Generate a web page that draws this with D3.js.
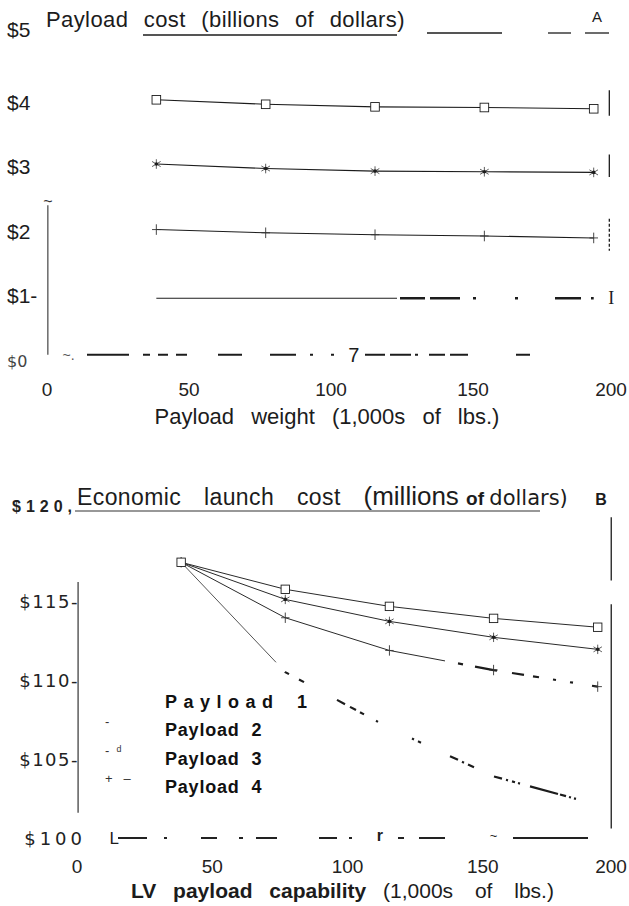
<!DOCTYPE html>
<html>
<head>
<meta charset="utf-8">
<script src="https://cdn.jsdelivr.net/npm/d3@7"></script>
<style>
  body { margin: 0; background: #fff; }
  svg { display: block; }
</style>
</head>
<body>
<div id="chart"></div>
<script>
// payload weight / LV payload capability (1,000s of lbs.)
const weights = [38.5, 77, 115.5, 154, 192.5];

// A: payload cost, billions of dollars
const costP1 = [0.96, 0.96, 0.96, 0.96, 0.96];
const costP2 = [2.03, 1.98, 1.95, 1.93, 1.90];
const costP3 = [3.05, 2.98, 2.94, 2.93, 2.92];
const costP4 = [4.05, 3.98, 3.94, 3.93, 3.91];

// B: economic launch cost, millions of dollars
const launchP1 = [117.45, 110.5, 106.96, 103.9, 102.1];
const launchP2 = [117.45, 113.94, 111.87, 110.63, 109.58];
const launchP3 = [117.45, 115.1, 113.71, 112.7, 111.94];
const launchP4 = [117.45, 115.74, 114.66, 113.9, 113.34];

const xTicks = [0, 50, 100, 150, 200];
const yTicksA = [0, 1, 2, 3, 4, 5];
const yLabelsA = ['$0', '$1-', '$2', '$3', '$4', '$5'];
const yTicksB = [100, 105, 110, 115, 120];
const yLabelsB = ['$100', '$105-', '$110-', '$115-', '$120,'];
const legendLabels = ['Payload 1', 'Payload 2', 'Payload 3', 'Payload 4'];
const legendMarks = ['', '-', '-  \u1D48', '+   \u2013'];
const markerKinds = [null, 'plus', 'star', 'square'];

const W = 629, H = 906;
const ink = '#1c1c1c';
const sans = '"Liberation Sans", Arial, sans-serif';
const narrow = '"Liberation Sans Narrow", "Liberation Sans", Arial, sans-serif';
const wide = '"DejaVu Sans", Verdana, sans-serif';

const svg = d3.select('#chart').append('svg')
    .attr('width', W)
    .attr('height', H)
    .style('background', '#fff');

const xA = d3.scaleLinear().domain([0, 200]).range([47, 615]);
const yA = d3.scaleLinear().domain([0, 5]).range([360, 38.75]);
const xB = d3.scaleLinear().domain([0, 200]).range([77, 618]);
const yB = d3.scaleLinear().domain([100, 120]).range([838, 522]);

// length along a polyline up to pixel x
function lengthAtX(pts, px) {
    let len = 0;
    for (let i = 1; i < pts.length; i++) {
        const [x0, y0] = pts[i - 1], [x1, y1] = pts[i];
        const seg = Math.hypot(x1 - x0, y1 - y0);
        if (px <= x1) return len + seg * Math.max(0, px - x0) / (x1 - x0);
        len += seg;
    }
    return len;
}

// the scan broke some lines up; rebuild those gaps as a dash pattern
function dashes(pts, spans) {
    const arr = [0];
    let pos = 0;
    spans.forEach(function(s) {
        const a = lengthAtX(pts, s[0]), b = lengthAtX(pts, s[1]);
        arr.push(Math.max(0, a - pos), Math.max(0.8, b - a));
        pos = b;
    });
    arr.push(3000);
    return arr.join(',');
}

// thin solid run first, then the heavier scanned fragments
function brokenLine(g, pts, spans, thin, thick, color) {
    const first = [[pts[0][0], spans[0][1]]];
    g.append('path').attr('d', line(pts))
        .attr('fill', 'none').attr('stroke', color).attr('stroke-width', thin)
        .attr('stroke-dasharray', dashes(pts, first));
    g.append('path').attr('d', line(pts))
        .attr('fill', 'none').attr('stroke', ink).attr('stroke-width', thick)
        .attr('stroke-dasharray', dashes(pts, spans.slice(1)));
}

function marker(g, kind, cx, cy, big) {
    const s = big ? 4.3 : 4.2;
    if (kind === 'square') {
        g.append('rect')
            .attr('x', cx - s).attr('y', cy - s)
            .attr('width', s * 2).attr('height', s * 2)
            .attr('fill', '#fff').attr('stroke', ink).attr('stroke-width', 0.9);
    } else if (kind === 'star') {
        const p = d3.path();
        p.moveTo(cx, cy - s - 0.5); p.lineTo(cx, cy + s + 0.5);
        p.moveTo(cx - s, cy - s * 0.6); p.lineTo(cx + s, cy + s * 0.6);
        p.moveTo(cx - s, cy + s * 0.6); p.lineTo(cx + s, cy - s * 0.6);
        g.append('path').attr('d', p.toString())
            .attr('stroke', '#333').attr('stroke-width', 0.8).attr('fill', 'none');
        g.append('circle').attr('cx', cx).attr('cy', cy).attr('r', 1.8).attr('fill', ink);
    } else if (kind === 'plus') {
        const p = d3.path();
        p.moveTo(cx, cy - s - 1); p.lineTo(cx, cy + s + 1);
        p.moveTo(cx - s, cy); p.lineTo(cx + s, cy);
        g.append('path').attr('d', p.toString())
            .attr('stroke', '#333').attr('stroke-width', 0.9).attr('fill', 'none');
    }
}

const line = d3.line();

// ---------------- panel A ----------------
const gA = svg.append('g');

gA.append('text')
    .attr('x', 46).attr('y', 27)
    .style('font-family', sans).style('font-size', '22px')
    .style('letter-spacing', '0.4px').style('word-spacing', '9px')
    .attr('fill', ink)
    .text('Payload cost (billions of dollars)');
[[143, 397, 35], [427, 502, 33], [548, 571, 33], [585, 609, 33]].forEach(function(r) {
    gA.append('line').attr('x1', r[0]).attr('x2', r[1]).attr('y1', r[2]).attr('y2', r[2])
        .attr('stroke', ink).attr('stroke-width', 1.3);
});
gA.append('text').attr('x', 597).attr('y', 22)
    .attr('text-anchor', 'middle')
    .style('font-family', narrow).style('font-size', '15px').attr('fill', ink)
    .text('A');

gA.selectAll('.ylab').data(yTicksA).enter().append('text')
    .attr('class', 'ylab')
    .attr('x', 7)
    .attr('y', d => yA(d) + (d === 5 ? -2 : 7))
    .style('font-family', d => d === 0 ? wide : sans)
    .style('font-size', d => d === 0 ? '16px' : '21px')
    .attr('fill', d => d === 0 ? '#444' : ink)
    .text((d, i) => yLabelsA[i]);

// left axis stub
gA.append('line')
    .attr('x1', xA(0.3)).attr('x2', xA(0.3))
    .attr('y1', yA(2.41)).attr('y2', yA(0.08))
    .attr('stroke', '#444').attr('stroke-width', 1.2);
gA.append('text').attr('x', xA(0.3)).attr('y', yA(2.41) + 2)
    .attr('text-anchor', 'middle').style('font-family', sans).style('font-size', '16px')
    .attr('fill', '#333').text('~');

// broken baseline at $0
const baseA = [[xA(14), yA(0.08)], [xA(175), yA(0.08)]];
gA.append('path')
    .attr('d', line(baseA))
    .attr('fill', 'none').attr('stroke', ink).attr('stroke-width', 2)
    .attr('stroke-dasharray', dashes(baseA, [[87, 129], [143, 150], [158, 168], [176, 187], [218, 242],
        [270, 296], [310, 313], [331, 334], [365, 385], [390, 411], [415, 418], [429, 445],
        [450, 468], [516, 530]]));
gA.append('text').attr('x', xA(5.5)).attr('y', yA(0.08) + 5)
    .style('font-family', sans).style('font-size', '14px').attr('fill', '#555').text('~.');
gA.append('text').attr('x', xA(108)).attr('y', yA(0.08) + 7)
    .attr('text-anchor', 'middle').style('font-family', sans).style('font-size', '20px')
    .attr('fill', ink).text('7');

// right frame fragments
const rxA = xA(198);
[[4.2, 3.8, null], [3.2, 2.85, null], [2.2, 1.7, '3,2']].forEach(function(s) {
    gA.append('line').attr('x1', rxA).attr('x2', rxA)
        .attr('y1', yA(s[0])).attr('y2', yA(s[1]))
        .attr('stroke', ink).attr('stroke-width', 1.3)
        .attr('stroke-dasharray', s[2]);
});
gA.append('text').attr('x', rxA + 2).attr('y', yA(0.96) + 6)
    .attr('text-anchor', 'middle').style('font-family', '"Liberation Serif", serif')
    .style('font-size', '18px').attr('fill', ink).text('I');

[costP1, costP2, costP3, costP4].forEach(function(vals, k) {
    const pts = weights.map((w, i) => [xA(w), yA(vals[i])]);
    if (k === 0) {
        brokenLine(gA, pts, [[0, 397], [400, 425], [430, 460], [473, 476], [515, 518],
            [555, 581], [591, 594]], 1.1, 2.6, ink);
    } else {
        gA.append('path')
            .attr('d', line(pts))
            .attr('fill', 'none')
            .attr('stroke', ink)
            .attr('stroke-width', 1.1);
    }
    if (markerKinds[k]) {
        pts.forEach(p => marker(gA, markerKinds[k], p[0], p[1], true));
    }
});

gA.selectAll('.xlab').data(xTicks).enter().append('text')
    .attr('class', 'xlab')
    .attr('x', d => Math.min(xA(d), W - 18))
    .attr('y', 396)
    .attr('text-anchor', 'middle')
    .style('font-family', sans).style('font-size', '19px')
    .attr('fill', '#222')
    .text(d => d);

gA.append('text')
    .attr('x', 327).attr('y', 424)
    .attr('text-anchor', 'middle')
    .style('font-family', sans).style('font-size', '22px')
    .style('word-spacing', '11px')
    .attr('fill', ink)
    .text('Payload weight (1,000s of lbs.)');

// ---------------- panel B ----------------
const gB = svg.append('g');

const titleB = gB.append('text').attr('x', 77).attr('y', 505).attr('fill', ink);
titleB.append('tspan')
    .style('font-family', sans).style('font-size', '23px')
    .style('letter-spacing', '0.4px').style('word-spacing', '16px')
    .text('Economic launch cost ');
titleB.append('tspan')
    .style('font-family', sans).style('font-size', '26px')
    .text('(millions ');
titleB.append('tspan')
    .style('font-family', sans).style('font-size', '19px').style('font-weight', 'bold')
    .text('of ');
titleB.append('tspan')
    .style('font-family', wide).style('font-size', '21px')
    .text('dollars)');
gB.append('text').attr('x', 601).attr('y', 505)
    .attr('text-anchor', 'middle')
    .style('font-family', sans).style('font-size', '16px').style('font-weight', 'bold')
    .attr('fill', ink).text('B');
gB.append('line').attr('x1', 75).attr('x2', 540).attr('y1', 511).attr('y2', 511)
    .attr('stroke', '#333').attr('stroke-width', 1.2);

gB.selectAll('.ylab').data(yTicksB).enter().append('text')
    .attr('class', 'ylab')
    .attr('x', d => d === 120 ? 12 : (d === 100 ? 86 : 79))
    .attr('y', d => yB(d) + (d === 120 ? -10 : 7))
    .attr('text-anchor', d => d === 120 ? 'start' : 'end')
    .style('font-family', d => d === 120 ? sans : wide)
    .style('font-weight', d => d === 120 ? 'bold' : 'normal')
    .style('font-size', d => d === 120 ? '16px' : '18px')
    .style('letter-spacing', d => d === 120 ? '5px' : (d === 100 ? '4px' : '1.5px'))
    .attr('fill', '#222')
    .text((d, i) => yLabelsB[i]);

// left axis stub
gB.append('line')
    .attr('x1', xB(0.4)).attr('x2', xB(0.4))
    .attr('y1', yB(116.2)).attr('y2', yB(101.6))
    .attr('stroke', '#333').attr('stroke-width', 1.2);

// right frame fragments
const rxB = xB(197.5);
[[120.3, 116.3], [114.8, 100.6]].forEach(function(s) {
    gB.append('line').attr('x1', rxB).attr('x2', rxB)
        .attr('y1', yB(s[0])).attr('y2', yB(s[1]))
        .attr('stroke', ink).attr('stroke-width', 1.3);
});

// broken baseline at $100
const baseB = [[xB(15), yB(100)], [xB(189.5), yB(100)]];
gB.append('path')
    .attr('d', line(baseB))
    .attr('fill', 'none').attr('stroke', '#222').attr('stroke-width', 1.8)
    .attr('stroke-dasharray', dashes(baseB, [[118, 147], [164, 167], [201, 217], [239, 243],
        [256, 277], [319, 337], [349, 352], [398, 404], [419, 445], [513, 588]]));
gB.append('text').attr('x', xB(12)).attr('y', yB(100) + 6)
    .style('font-family', sans).style('font-size', '17px').attr('fill', ink).text('L');
gB.append('text').attr('x', xB(112)).attr('y', yB(100) + 3)
    .attr('text-anchor', 'middle').style('font-family', sans).style('font-size', '16px')
    .style('font-weight', 'bold').attr('fill', ink).text('r');
gB.append('text').attr('x', xB(154)).attr('y', yB(100) + 2)
    .attr('text-anchor', 'middle').style('font-family', sans).style('font-size', '13px')
    .attr('fill', ink).text('~');

const seriesB = [launchP1, launchP2, launchP3, launchP4];
const spansB = [
    [[0, 276], [285, 289], [299, 304], [337, 345], [350, 356], [360, 364], [376, 378],
        [412, 414], [418, 421], [450, 458], [462, 464], [468, 474], [494, 502], [506, 508],
        [512, 515], [518, 520], [530, 558], [560, 566], [569, 571], [574, 576], [599, 601]],
    [[0, 445], [458, 463], [475, 497], [512, 524], [533, 539], [553, 556], [570, 573], [592, 598]],
    null,
    null
];
seriesB.forEach(function(vals, k) {
    const pts = weights.map((w, i) => [xB(w), yB(vals[i])]);
    if (spansB[k]) {
        brokenLine(gB, pts, spansB[k], k === 0 ? 1 : 1, 2.2, k === 0 ? '#555' : '#2a2a2a');
    } else {
        gB.append('path')
            .attr('d', line(pts))
            .attr('fill', 'none')
            .attr('stroke', '#2a2a2a')
            .attr('stroke-width', 1);
    }
    if (markerKinds[k]) {
        pts.forEach(p => marker(gB, markerKinds[k], p[0], p[1], false));
    }
});

// legend
const legend = gB.selectAll('.leg').data(legendLabels).enter().append('g').attr('class', 'leg');
legend.append('text')
    .attr('x', 165)
    .attr('y', (d, i) => 708 + i * 28.3)
    .style('font-family', sans).style('font-size', '18px').style('font-weight', 'bold')
    .style('letter-spacing', (d, i) => i === 0 ? '6.5px' : '0.8px')
    .style('word-spacing', '6px')
    .attr('fill', '#111')
    .text(d => d);
legend.append('text')
    .attr('x', 105)
    .attr('y', (d, i) => 708 + i * 28.3 - 10)
    .attr('xml:space', 'preserve')
    .style('white-space', 'pre')
    .style('font-family', sans).style('font-size', '13px')
    .attr('fill', '#333')
    .text((d, i) => legendMarks[i]);

gB.selectAll('.xlab').data(xTicks).enter().append('text')
    .attr('class', 'xlab')
    .attr('x', d => Math.min(xB(d), W - 18))
    .attr('y', 873)
    .attr('text-anchor', 'middle')
    .style('font-family', sans).style('font-size', '19px')
    .attr('fill', '#222')
    .text(d => d);

const titleX = gB.append('text').attr('x', 131).attr('y', 898)
    .style('font-family', sans).style('font-size', '21px').style('word-spacing', '11px')
    .attr('fill', ink);
titleX.append('tspan').style('font-weight', 'bold').text('LV payload capability ');
titleX.append('tspan').style('word-spacing', '16px').text('(1,000s of lbs.)');
</script>
</body>
</html>
